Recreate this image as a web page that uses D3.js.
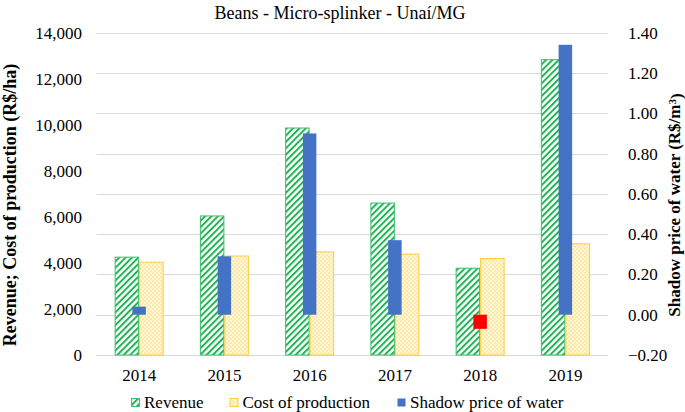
<!DOCTYPE html>
<html>
<head>
<meta charset="utf-8">
<script src="https://cdn.jsdelivr.net/npm/d3@7"></script>
<style>
  body { margin: 0; background: #fff; }
  svg { display: block; }
  text { font-family: "Liberation Serif", "DejaVu Serif", serif; fill: #000; }
</style>
</head>
<body>
<svg id="chart" width="685" height="412"></svg>
<script>
const years = ["2014", "2015", "2016", "2017", "2018", "2019"];
const revenue = [4250, 6040, 9860, 6600, 3770, 12830];
const costOfProduction = [4030, 4300, 4480, 4380, 4190, 4830];
const shadowPrice = [0.04, 0.29, 0.90, 0.37, -0.07, 1.34];
const leftTicks = [0, 2000, 4000, 6000, 8000, 10000, 12000, 14000];
const rightTicks = [-0.2, 0, 0.2, 0.4, 0.6, 0.8, 1.0, 1.2, 1.4];
const title = "Beans - Micro-splinker - Unaí/MG";
const seriesNames = ["Revenue", "Cost of production", "Shadow price of water"];

const svg = d3.select("#chart");
const plot = { left: 96.5, right: 608, top: 32.7, bottom: 355 };

const x = d3.scaleBand().domain(years).range([plot.left, plot.right]).paddingInner(0).paddingOuter(0);
const yL = d3.scaleLinear().domain([0, 14000]).range([plot.bottom, plot.top]);
const yR = d3.scaleLinear().domain([-0.2, 1.4]).range([plot.bottom, plot.top]);

// patterns
const defs = svg.append("defs");
const stripe = defs.append("pattern").attr("id", "stripes").attr("patternUnits", "userSpaceOnUse")
  .attr("width", 4.5).attr("height", 4.5).attr("patternTransform", "rotate(45)");
stripe.append("rect").attr("width", 4.5).attr("height", 4.5).attr("fill", "#fff");
stripe.append("rect").attr("width", 2).attr("height", 4.5).attr("fill", "#22B356");

const dots = defs.append("pattern").attr("id", "dots").attr("patternUnits", "userSpaceOnUse")
  .attr("width", 4).attr("height", 4);
dots.append("rect").attr("width", 4).attr("height", 4).attr("fill", "#FFF6D9");
dots.append("rect").attr("x", 0).attr("y", 0).attr("width", 2).attr("height", 2).attr("fill", "#FFE9A6");
dots.append("rect").attr("x", 2).attr("y", 2).attr("width", 2).attr("height", 2).attr("fill", "#FFE9A6");

// gridlines
svg.append("g").selectAll("line").data(rightTicks).join("line")
  .attr("x1", plot.left).attr("x2", plot.right)
  .attr("y1", d => Math.round(yR(d)) + 0.5).attr("y2", d => Math.round(yR(d)) + 0.5)
  .attr("stroke", "#D9D9D9").attr("stroke-width", 1);

// left axis
const axL = d3.axisLeft(yL).tickValues(leftTicks).tickSize(0).tickPadding(0)
  .tickFormat(d => d3.format(",")(d));
const gL = svg.append("g").attr("transform", `translate(82,0)`).call(axL);
gL.select(".domain").remove();
gL.selectAll("text").attr("font-size", 17).attr("font-family", "Liberation Serif").attr("fill", "#1a1a1a").attr("dy", "0.32em");

// right axis
const axR = d3.axisRight(yR).tickValues(rightTicks).tickSize(0).tickPadding(0)
  .tickFormat(d3.format(".2f"));
const gR = svg.append("g").attr("transform", `translate(628,0)`).call(axR);
gR.select(".domain").remove();
gR.selectAll("text").attr("font-size", 17).attr("font-family", "Liberation Serif").attr("fill", "#1a1a1a").attr("dy", "0.32em");

// x axis
const axX = d3.axisBottom(x).tickSize(0).tickPadding(0);
const gX = svg.append("g").attr("transform", `translate(0,${plot.bottom})`).call(axX);
gX.select(".domain").remove();
gX.selectAll("text").attr("font-size", 17).attr("font-family", "Liberation Serif").attr("fill", "#1a1a1a").attr("y", 14).attr("dy", "0.71em");

const barW = 24.5;
const cx = d => x(d) + x.bandwidth() / 2;

// revenue
svg.append("g").selectAll("rect").data(years).join("rect")
  .attr("x", d => cx(d) - barW + 0.5)
  .attr("y", (d, i) => yL(revenue[i]))
  .attr("width", barW - 1)
  .attr("height", (d, i) => yL(0) - yL(revenue[i]))
  .attr("fill", "url(#stripes)").attr("stroke", "#3DBE6A").attr("stroke-width", 1);

// cost
svg.append("g").selectAll("rect").data(years).join("rect")
  .attr("x", d => cx(d) + 0.5)
  .attr("y", (d, i) => yL(costOfProduction[i]))
  .attr("width", barW - 1)
  .attr("height", (d, i) => yL(0) - yL(costOfProduction[i]))
  .attr("fill", "url(#dots)").attr("stroke", "#FFCB3D").attr("stroke-width", 1);

// shadow price
const sw = 13.5;
svg.append("g").selectAll("rect").data(years).join("rect")
  .attr("x", d => cx(d) - sw / 2)
  .attr("y", (d, i) => Math.min(yR(shadowPrice[i]), yR(0)))
  .attr("width", sw)
  .attr("height", (d, i) => Math.abs(yR(0) - yR(shadowPrice[i])))
  .attr("fill", (d, i) => shadowPrice[i] < 0 ? "#FF0000" : "#4472C4");

// title
svg.append("text").attr("x", 340).attr("y", 13).attr("text-anchor", "middle")
  .attr("dy", "0.35em").attr("font-size", 18).text(title);

// axis titles
svg.append("text").attr("transform", `translate(10,205) rotate(-90)`)
  .attr("text-anchor", "middle").attr("dy", "0.35em")
  .attr("font-size", 18).attr("font-weight", "bold")
  .text("Revenue; Cost of production (R$/ha)");

const rt = svg.append("text").attr("transform", `translate(674,205) rotate(-90)`)
  .attr("text-anchor", "middle").attr("dy", "0.35em")
  .attr("font-size", 17).attr("font-weight", "bold");
rt.append("tspan").text("Shadow price of water (R$/m");
rt.append("tspan").attr("dy", "-0.4em").attr("font-size", 11).text("3");
rt.append("tspan").attr("dy", "0.4em").text(")");

// legend
const legend = [
  { name: seriesNames[0], x: 131, fill: "url(#stripes)", stroke: "#3DBE6A" },
  { name: seriesNames[1], x: 229.5, fill: "url(#dots)", stroke: "#FFCB3D" },
  { name: seriesNames[2], x: 397, fill: "#4472C4", stroke: "none" }
];
const lg = svg.append("g").selectAll("g").data(legend).join("g")
  .attr("transform", d => `translate(${d.x},398)`);
lg.append("rect").attr("x", 0.5).attr("y", 0.5).attr("width", 8).attr("height", 8)
  .attr("fill", d => d.fill).attr("stroke", d => d.stroke);
lg.append("text").attr("x", 13).attr("y", 4.5).attr("dy", "0.35em")
  .attr("font-size", 17).text(d => d.name);
</script>
</body>
</html>
